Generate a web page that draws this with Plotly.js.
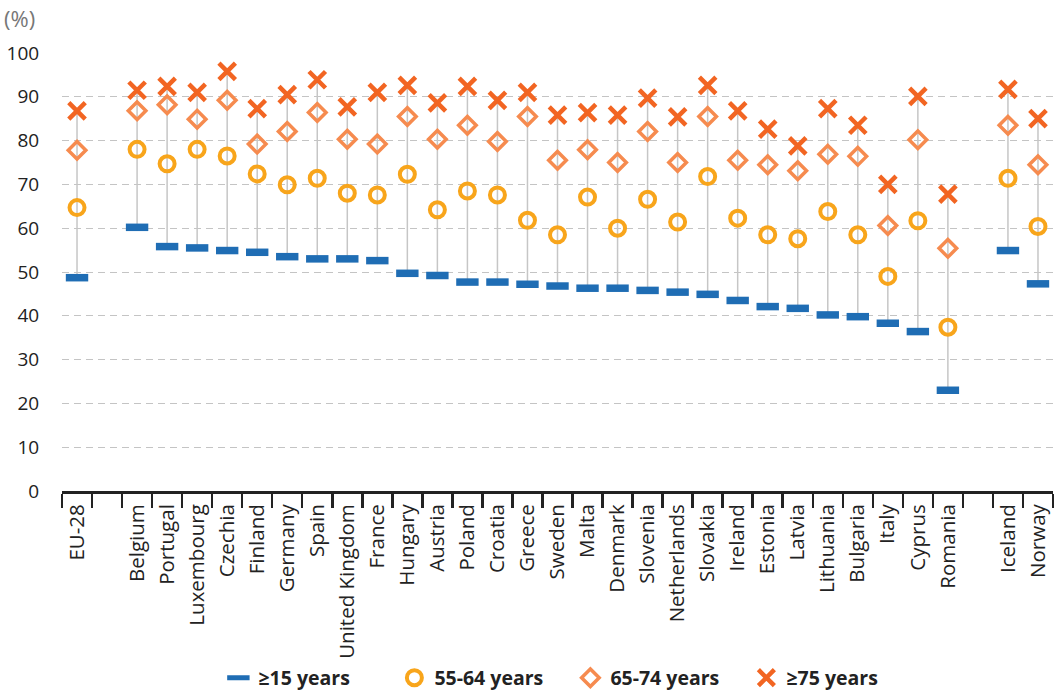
<!DOCTYPE html>
<html>
<head>
<meta charset="utf-8">
<script src="https://cdn.plot.ly/plotly-3.0.1.min.js"></script>
<style>html,body{margin:0;padding:0;background:#fff;}#chart{width:1056px;height:691px;}</style>
</head>
<body>
<div id="chart"></div>
<script>
const categories = ['EU-28',' ','Belgium','Portugal','Luxembourg','Czechia','Finland','Germany','Spain','United Kingdom','France','Hungary','Austria','Poland','Croatia','Greece','Sweden','Malta','Denmark','Slovenia','Netherlands','Slovakia','Ireland','Estonia','Latvia','Lithuania','Bulgaria','Italy','Cyprus','Romania','  ','Iceland','Norway'];
const age15plus = [48.7,null,60.2,55.8,55.5,54.9,54.5,53.5,53.0,53.0,52.6,49.7,49.2,47.7,47.7,47.2,46.8,46.3,46.3,45.8,45.4,44.9,43.5,42.1,41.7,40.2,39.8,38.3,36.4,23.0,null,54.9,47.3];
const age55to64 = [64.7,null,78.0,74.7,78.0,76.5,72.4,69.9,71.4,68.0,67.6,72.3,64.2,68.5,67.6,61.8,58.5,67.1,60.0,66.6,61.4,71.8,62.3,58.5,57.6,63.8,58.5,49.0,61.7,37.4,null,71.4,60.4];
const age65to74 = [77.8,null,86.8,88.2,84.9,89.2,79.2,82.1,86.4,80.3,79.2,85.5,80.3,83.5,79.8,85.5,75.5,77.9,75.0,82.1,75.0,85.5,75.5,74.5,73.1,76.9,76.4,60.6,80.2,55.4,null,83.5,74.5];
const age75plus = [86.8,null,91.5,92.4,91.0,95.8,87.3,90.5,93.9,87.7,91.0,92.6,88.6,92.4,89.2,91.0,85.8,86.4,85.8,89.7,85.4,92.6,86.8,82.6,78.8,87.3,83.5,70.0,90.1,67.8,null,91.7,85.0];
const seriesNames = ['≥15 years','55-64 years','65-74 years','≥75 years'];
const yTicks = [0,10,20,30,40,50,60,70,80,90,100];

const FONT = 'Open Sans, sans-serif';

// range lines (min to max per category)
const lx = [], ly = [];
categories.forEach((c, i) => {
  const vals = [age15plus[i], age55to64[i], age65to74[i], age75plus[i]].filter(v => v !== null);
  if (vals.length) {
    lx.push(c, c, null);
    ly.push(Math.min(...vals), Math.max(...vals), null);
  } else {
    lx.push(c); ly.push(null);
  }
});

const traces = [
  {x: lx, y: ly, type: 'scatter', mode: 'lines', line: {color: '#c6c6c6', width: 1.5},
   showlegend: false, hoverinfo: 'skip', cliponaxis: false, connectgaps: false},
  {x: categories, y: age15plus, name: seriesNames[0], type: 'scatter', mode: 'markers', cliponaxis: false,
   marker: {symbol: 'line-ew', size: 16, color: '#1f6db4', line: {color: '#1f6db4', width: 7.5}}},
  {x: categories, y: age55to64, name: seriesNames[1], type: 'scatter', mode: 'markers', cliponaxis: false,
   marker: {symbol: 'circle-open', size: 15, color: '#f8a51b', line: {color: '#f8a51b', width: 4}}},
  {x: categories, y: age65to74, name: seriesNames[2], type: 'scatter', mode: 'markers', cliponaxis: false,
   marker: {symbol: 'diamond-open', size: 13.5, color: '#f68b4f', line: {color: '#f68b4f', width: 3.5}}},
  {x: categories, y: age75plus, name: seriesNames[3], type: 'scatter', mode: 'markers', cliponaxis: false,
   marker: {symbol: 'x-thin-open', size: 16.5, color: '#f26522', line: {color: '#f26522', width: 4.5}}}
];

const layout = {
  width: 1056, height: 691,
  margin: {l: 62, r: 3, t: 53, b: 200, autoexpand: false},
  paper_bgcolor: '#fff', plot_bgcolor: '#fff',
  font: {family: FONT, color: '#222', size: 19},
  showlegend: true,
  legend: {orientation: 'h', x: 0.513, xanchor: 'center', y: -0.427, yanchor: 'middle',
           font: {family: FONT, size: 19.5, color: '#222', weight: 'bold'},
           entrywidth: 131, entrywidthmode: 'pixels', itemsizing: 'trace'},
  xaxis: {type: 'category', categoryorder: 'array', categoryarray: categories,
          range: [-0.5, categories.length - 0.5], tickson: 'boundaries',
          ticks: 'outside', ticklen: 14, tickwidth: 2.5, tickcolor: '#222',
          showline: true, linecolor: '#222', linewidth: 3, showgrid: false, zeroline: false,
          tickangle: -90, ticklabelstandoff: 2, automargin: false,
          tickfont: {family: FONT, size: 20.5, color: '#222'}, fixedrange: true},
  yaxis: {range: [0, 100], tickvals: yTicks, ticktext: yTicks.map(String), automargin: false,
          showgrid: true, gridcolor: '#c4c4c4', gridwidth: 1, griddash: '7px,5px',
          zeroline: false, showline: false, ticks: 'outside', ticklen: 18, tickcolor: 'rgba(0,0,0,0)',
          tickfont: {family: FONT, size: 19, color: '#222'}, fixedrange: true},
  annotations: [
    {text: '(%)', xref: 'paper', yref: 'paper', x: -0.0605, y: 1.08, xanchor: 'left', yanchor: 'middle',
     showarrow: false, font: {family: FONT, size: 22, color: '#777'}}
  ]
};

Plotly.newPlot('chart', traces, layout, {displayModeBar: false, staticPlot: true});
</script>
</body>
</html>
